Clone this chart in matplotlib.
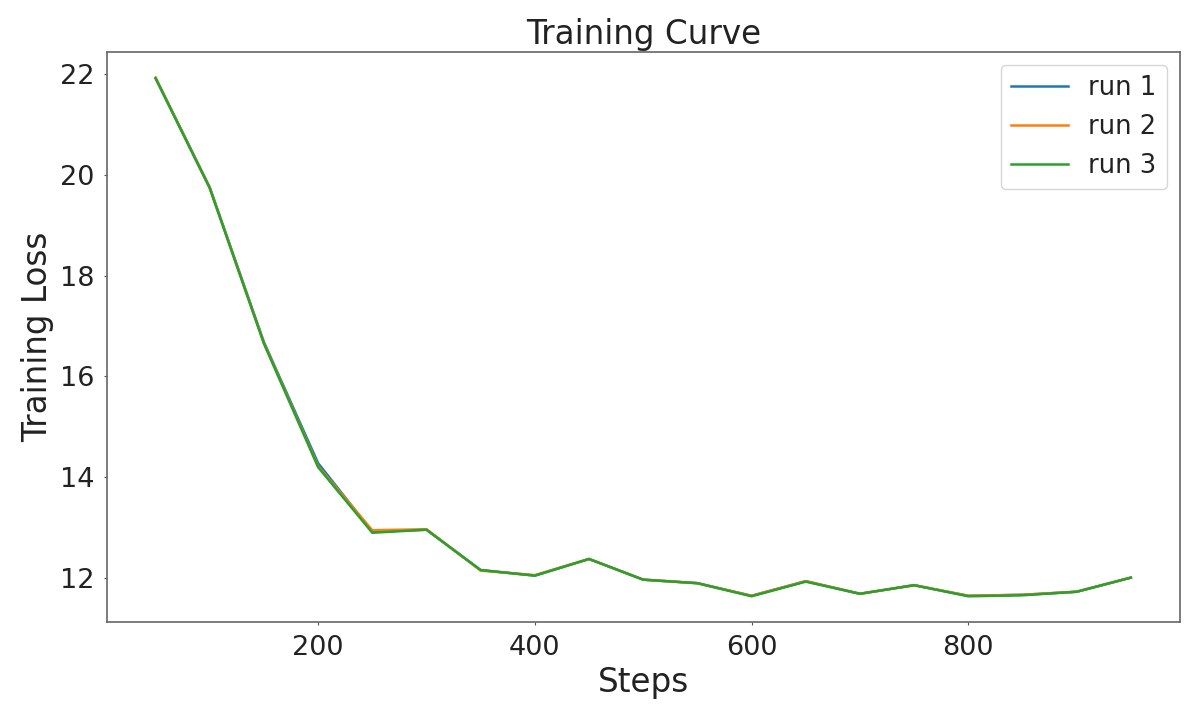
import matplotlib
matplotlib.use("Agg")
import matplotlib.pyplot as plt

steps = [50, 100, 150, 200, 250, 300, 350, 400, 450, 500,
         550, 600, 650, 700, 750, 800, 850, 900, 950]
run1 = [21.92, 19.75, 16.68, 14.28, 12.92, 12.96, 12.16, 12.05, 12.38, 11.97,
        11.90, 11.65, 11.94, 11.69, 11.86, 11.65, 11.67, 11.73, 12.01]
run2 = [21.92, 19.74, 16.66, 14.22, 12.95, 12.97, 12.15, 12.06, 12.38, 11.97,
        11.90, 11.65, 11.94, 11.69, 11.86, 11.65, 11.67, 11.73, 12.01]
run3 = [21.91, 19.73, 16.65, 14.20, 12.90, 12.96, 12.16, 12.05, 12.38, 11.97,
        11.90, 11.64, 11.93, 11.69, 11.86, 11.64, 11.66, 11.73, 12.01]
labels = ["run 1", "run 2", "run 3"]

fig = plt.figure(figsize=(12, 7.21), dpi=100)
ax = fig.add_axes([0.089, 0.137, 0.894, 0.791])
for y, lab in zip([run1, run2, run3], labels):
    ax.plot(steps, y, label=lab, linewidth=1.8)

ax.set_title("Training Curve", fontsize=23.5, color="#222222")
ax.set_xlabel("Steps", fontsize=23.5, color="#222222")
ax.set_ylabel("Training Loss", fontsize=23.5, color="#222222")
ax.tick_params(labelsize=19.5, length=2.5, width=0.8, colors="#555555",
               labelcolor="#222222", pad=6.5)
ax.set_yticks([12, 14, 16, 18, 20, 22])
ax.set_xticks([200, 400, 600, 800])
leg = ax.legend(fontsize=18.5, loc="upper right", handlelength=2.2)
for t in leg.get_texts():
    t.set_color("#222222")
for s in ax.spines.values():
    s.set_color("#666666")
    s.set_linewidth(1.2)

fig.savefig("out.png", dpi=100)
